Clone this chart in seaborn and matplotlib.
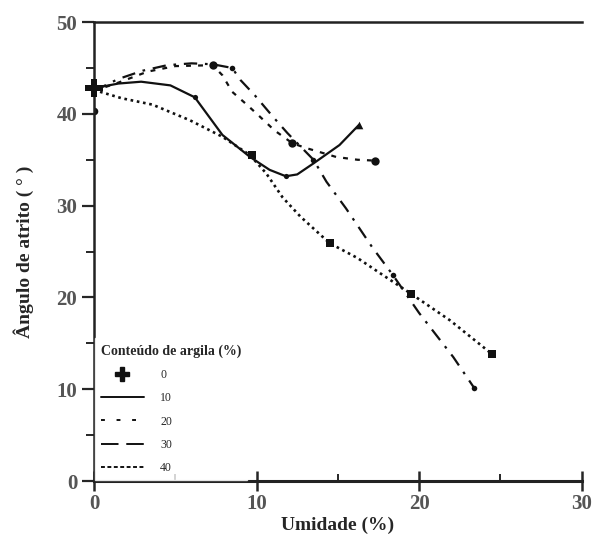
import matplotlib
matplotlib.use("Agg")
import matplotlib.pyplot as plt
from matplotlib.lines import Line2D
from matplotlib.ticker import MultipleLocator
import seaborn as sns

# curves (umidade %, angulo de atrito graus)
x_10 = [0, 1.5, 2.9, 4.7, 6.2, 7.9, 9.6, 10.8, 11.8, 12.5, 13.5, 15.1, 16.3]
y_10 = [42.8, 43.3, 43.5, 43.1, 41.8, 37.7, 35.3, 33.9, 33.2, 33.4, 34.6, 36.6, 38.8]

x_20 = [0, 1.5, 3.3, 5.0, 7.3, 7.9, 8.5, 9.4, 10.2, 11.1, 12.2, 13.0, 14.9, 16.2, 17.3]
y_20 = [42.5, 43.4, 44.6, 45.2, 45.3, 44.2, 42.4, 41.0, 39.7, 38.2, 36.8, 36.3, 35.3, 35.0, 34.9]

x_30 = [0, 1.5, 3.0, 4.5, 6.0, 7.3, 8.5, 9.0, 9.9, 11.0, 11.9, 13.5, 14.3, 15.5, 17.1, 18.4, 20.0, 22.1, 23.4]
y_30 = [42.5, 43.8, 44.7, 45.3, 45.5, 45.4, 45.0, 43.7, 42.0, 39.7, 37.9, 35.0, 32.6, 29.7, 25.5, 22.4, 18.3, 13.5, 10.1]

x_40 = [0, 1.7, 3.6, 5.9, 7.9, 9.6, 10.6, 11.6, 12.7, 14.5, 16.2, 17.8, 19.5, 21.9, 24.5]
y_40 = [42.6, 41.7, 41.0, 39.3, 37.5, 35.5, 33.5, 30.9, 28.8, 25.9, 24.3, 22.4, 20.4, 17.5, 13.8]

# measured points
pt_0_x, pt_0_y = [0], [42.8]
pt_10_x, pt_10_y = [6.2, 11.8], [41.8, 33.2]
tri_10_x, tri_10_y = [16.3], [38.8]
pt_20_x, pt_20_y = [7.3, 12.2, 17.3], [45.3, 36.8, 34.9]
pt_30_x, pt_30_y = [8.5, 13.5, 18.4, 23.4], [45.0, 35.0, 22.4, 10.1]
pt_40_x, pt_40_y = [9.7, 14.5, 19.5, 24.5], [35.5, 25.9, 20.4, 13.8]
pt_40b_x, pt_40b_y = [0], [40.3]

legend_labels = ["0", "10", "20", "30", "40"]

sns.set_style("ticks")
plt.rcParams["font.family"] = ["Liberation Serif", "DejaVu Serif"]

fig = plt.figure(figsize=(5.93, 5.51), dpi=100)
ax = fig.add_axes([0.1585, 0.127, 0.8225, 0.833])

ink = "#111111"
sns.lineplot(x=x_10, y=y_10, sort=False, ax=ax, color=ink, linewidth=1.6)
sns.lineplot(x=x_20, y=y_20, sort=False, ax=ax, color=ink, linewidth=1.6,
             linestyle=(0, (2.2, 3.2)))
sns.lineplot(x=x_30, y=y_30, sort=False, ax=ax, color=ink, linewidth=1.6,
             linestyle=(0, (6, 3.5, 1.2, 3.5)))
sns.lineplot(x=x_40, y=y_40, sort=False, ax=ax, color=ink, linewidth=1.9,
             linestyle=(0, (1.0, 1.4)))

sns.scatterplot(x=pt_10_x, y=pt_10_y, ax=ax, color=ink, s=14, marker="o", linewidth=0)
sns.scatterplot(x=tri_10_x, y=tri_10_y, ax=ax, color=ink, s=30, marker="^", linewidth=0)
sns.scatterplot(x=pt_20_x, y=pt_20_y, ax=ax, color=ink, s=36, marker="o", linewidth=0)
sns.scatterplot(x=pt_30_x, y=pt_30_y, ax=ax, color=ink, s=16, marker="o", linewidth=0)
sns.scatterplot(x=pt_40_x, y=pt_40_y, ax=ax, color=ink, s=40, marker="s", linewidth=0)
sns.scatterplot(x=pt_40b_x, y=pt_40b_y, ax=ax, color=ink, s=30, marker="o", linewidth=0)
sns.scatterplot(x=pt_0_x, y=pt_0_y, ax=ax, color=ink, s=160, marker="P", linewidth=0,
                clip_on=False, zorder=5)

ax.set_xlim(0, 30)
ax.set_ylim(0, 50)
ax.xaxis.set_major_locator(MultipleLocator(10))
ax.xaxis.set_minor_locator(MultipleLocator(5))
ax.yaxis.set_major_locator(MultipleLocator(10))
ax.yaxis.set_minor_locator(MultipleLocator(5))

ax.tick_params(axis="y", which="major", direction="out", length=9, width=1.6,
               labelsize=15, labelcolor="#555555", pad=3)
ax.tick_params(axis="y", which="minor", direction="out", length=6, width=1.4)
ax.tick_params(axis="x", which="major", direction="inout", length=14, width=1.8,
               labelsize=15, labelcolor="#555555", pad=2)
ax.tick_params(axis="x", which="minor", direction="in", length=5, width=1.4)
for lab in ax.get_xticklabels() + ax.get_yticklabels():
    lab.set_fontweight("bold")

for side, w in [("left", 1.8), ("bottom", 2.2), ("top", 1.8)]:
    ax.spines[side].set_linewidth(w)
    ax.spines[side].set_color("#222222")
ax.spines["right"].set_visible(False)

ax.set_xlabel("Umidade (%)", fontsize=14, fontweight="bold", labelpad=2)
ax.set_ylabel("Ângulo de atrito ( ° )", fontsize=14, fontweight="bold", labelpad=16)

handles = [
    Line2D([], [], color=ink, marker="P", markersize=10, linestyle="none"),
    Line2D([], [], color=ink, linewidth=1.4),
    Line2D([], [], color=ink, linewidth=1.4, linestyle=(0, (2, 6))),
    Line2D([], [], color=ink, linewidth=1.4, linestyle=(0, (9, 4))),
    Line2D([], [], color=ink, linewidth=1.4, linestyle=(0, (2, 1.3))),
]
leg = ax.legend(handles, legend_labels, title="Conteúdo de argila (%)",
                loc="lower left", bbox_to_anchor=(0.0, 0.0), borderaxespad=0.1,
                frameon=True, fancybox=False, framealpha=0.8, edgecolor="white",
                fontsize=8.5, handlelength=3.6, handletextpad=1.4, labelspacing=0.95,
                borderpad=0.5, alignment="left")
leg.get_title().set_fontsize(10)
leg.get_title().set_fontweight("bold")

fig.savefig("out.png", dpi=100)
